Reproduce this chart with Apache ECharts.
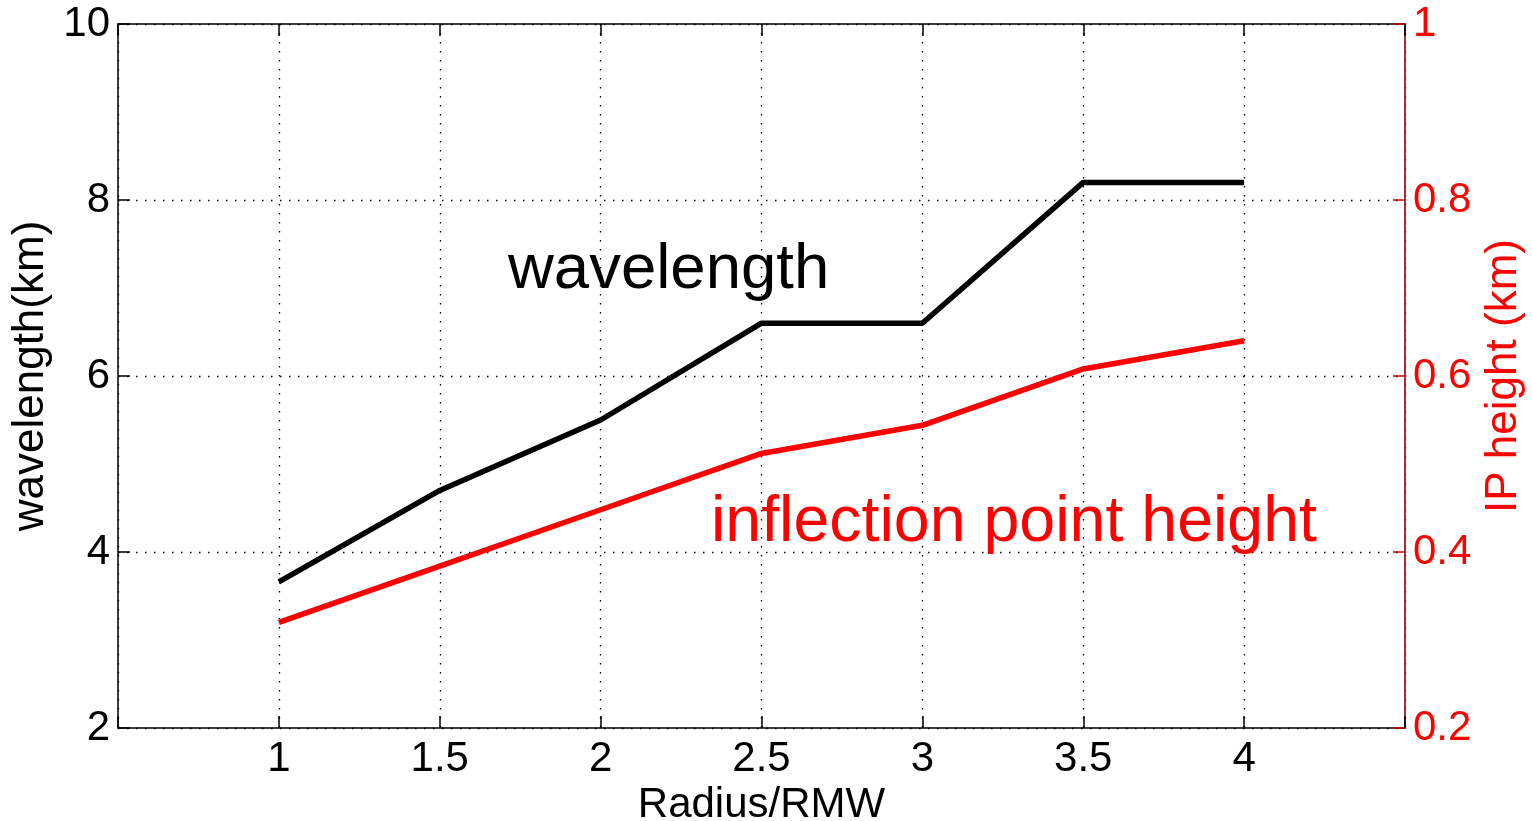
<!DOCTYPE html>
<html>
<head>
<meta charset="utf-8">
<title>Wavelength and inflection point height vs Radius/RMW</title>
<script src="https://cdn.jsdelivr.net/npm/echarts@6/dist/echarts.min.js"></script>
<style>
  html, body { margin: 0; padding: 0; background: #fff; overflow: hidden; }
  #chart { position: absolute; left: 0; top: 0; width: 1532px; height: 821px; }
</style>
</head>
<body>
<div id="chart"></div>
<script>
// Radius normalised by the radius of maximum wind
const radius = [1, 1.5, 2, 2.5, 3, 3.5, 4];
// Wavelength (km), left axis
const wavelength = [3.66, 4.7, 5.5, 6.6, 6.6, 8.2, 8.2];
// Inflection point height (km), right axis
const ipHeight = [0.32, 0.384, 0.448, 0.512, 0.544, 0.608, 0.64];
// Labelled x ticks
const xTickLabels = [1, 1.5, 2, 2.5, 3, 3.5, 4];

const FONT = 'Liberation Sans, Arial, Helvetica, sans-serif';
const RED = '#ff0000';
const gridDots = { color: '#000', width: 1.3, type: [1.5, 7.5] };

const chart = echarts.init(document.getElementById('chart'), null, {
  renderer: 'canvas', width: 1532, height: 821
});

chart.setOption({
  backgroundColor: '#ffffff',
  animation: false,
  grid: {
    left: 118, right: 127, top: 24, bottom: 93,
    containLabel: false, outerBoundsMode: 'none'
  },
  xAxis: [
    {
      type: 'value', position: 'bottom',
      min: 0.5, max: 4.5, interval: 0.5,
      name: 'Radius/RMW', nameLocation: 'middle', nameGap: 46,
      nameTextStyle: { fontFamily: FONT, fontSize: 42, color: '#000' },
      axisLine: { onZero: false, lineStyle: { color: '#000', width: 1.5 } },
      axisTick: { inside: true, length: 12, lineStyle: { color: '#000', width: 1.5 } },
      axisLabel: {
        margin: 10, fontFamily: FONT, fontSize: 42, color: '#000',
        formatter: v => (xTickLabels.indexOf(v) >= 0 ? String(v) : '')
      },
      splitLine: { show: true, lineStyle: gridDots }
    },
    {
      type: 'value', position: 'top',
      min: 0.5, max: 4.5, interval: 0.5,
      axisLine: { onZero: false, lineStyle: { color: '#000', width: 1.5 } },
      axisTick: { inside: true, length: 12, lineStyle: { color: '#000', width: 1.5 } },
      axisLabel: { show: false },
      splitLine: { show: false }
    }
  ],
  yAxis: [
    {
      type: 'value', position: 'left',
      min: 2, max: 10, interval: 2,
      name: 'wavelength(km)', nameLocation: 'middle', nameGap: 60, nameRotate: 90,
      nameTextStyle: { fontFamily: FONT, fontSize: 44, color: '#000' },
      axisLine: { show: true, onZero: false, lineStyle: { color: '#000', width: 1.5 } },
      axisTick: { show: true, inside: true, length: 12, lineStyle: { color: '#000', width: 1.5 } },
      axisLabel: { margin: 8, fontFamily: FONT, fontSize: 42, color: '#000' },
      splitLine: { show: true, lineStyle: gridDots }
    },
    {
      type: 'value', position: 'right',
      min: 0.2, max: 1, interval: 0.2,
      name: 'IP height (km)', nameLocation: 'middle', nameGap: 70, nameRotate: 90,
      nameTextStyle: { fontFamily: FONT, fontSize: 44, color: RED },
      axisLine: { show: true, onZero: false, lineStyle: { color: '#9a1c1c', width: 1.8 } },
      axisTick: { show: true, inside: true, length: 12, lineStyle: { color: '#d00000', width: 1.5 } },
      axisLabel: {
        margin: 8, fontFamily: FONT, fontSize: 42, color: RED,
        formatter: v => String(Math.round(v * 10) / 10)
      },
      splitLine: { show: false }
    }
  ],
  series: [
    {
      name: 'wavelength', type: 'line',
      xAxisIndex: 0, yAxisIndex: 0,
      data: radius.map((r, i) => [r, wavelength[i]]),
      showSymbol: false, symbol: 'none',
      lineStyle: { color: '#000', width: 5.5 },
      z: 3
    },
    {
      name: 'inflection point height', type: 'line',
      xAxisIndex: 0, yAxisIndex: 1,
      data: radius.map((r, i) => [r, ipHeight[i]]),
      showSymbol: false, symbol: 'none',
      lineStyle: { color: RED, width: 5.5 },
      z: 3
    }
  ],
  graphic: [
    {
      type: 'text', left: 508, top: 238, z: 10,
      style: { text: 'wavelength', fontFamily: FONT, fontSize: 63.5, fill: '#000' }
    },
    {
      type: 'text', left: 711, top: 491, z: 10,
      style: { text: 'inflection point height', fontFamily: FONT, fontSize: 64.5, fill: RED }
    }
  ]
});
</script>
</body>
</html>
